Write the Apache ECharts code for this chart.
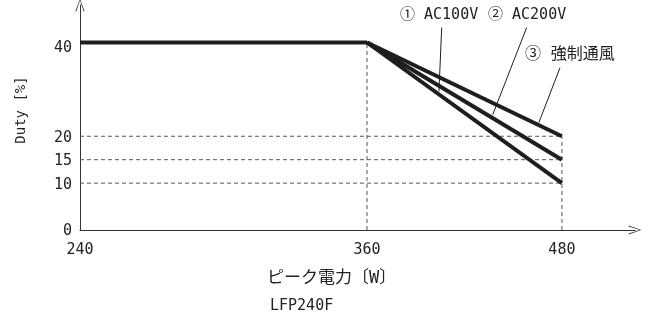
<!DOCTYPE html>
<html>
<head>
<meta charset="utf-8">
<script src="https://cdn.jsdelivr.net/npm/echarts@6/dist/echarts.min.js"></script>
<style>
  html, body { margin: 0; padding: 0; background: #fff; }
  #chart { width: 648px; height: 322px; }
</style>
</head>
<body>
<div id="chart"></div>
<script>
// data
const xTicks = [240, 360, 480];
const yTicks = [0, 10, 15, 20, 40];
const flatDuty = 40;
const breakPower = 360;
const fullPower = 480;
const seriesNames = ['① AC100V', '② AC200V', '③ 強制通風'];
const dutyAtFull = [10, 15, 20];
const guideLevels = [10, 15, 20];
// leader lines for the callouts (data coords, right part)
const leaderFrom = [[406, 43.2], [458.3, 43.2], [478.8, 34.6]];
const leaderTo = [[404.3, 29.6], [437.4, 24.6], [465.8, 22.9]];

const FONT = "'DejaVu Sans Mono', 'Noto Sans CJK JP', monospace";
const INK = '#1e1e1e';
const GUIDE = '#555';
const arrowPath = 'path://M5,0 L10,14 L9,14 L5,2 L1,14 L0,14 Z';

const myChart = echarts.init(document.getElementById('chart'), null, { renderer: 'canvas' });

const dashStyle = { color: GUIDE, width: 1, type: [4, 3] };
const lineBase = { type: 'line', symbol: 'none', silent: true, clip: false };

const series = [];

// left part: 240..360
guideLevels.forEach(l => {
  series.push({ ...lineBase, xAxisIndex: 0, yAxisIndex: 0, z: 1,
    lineStyle: dashStyle, data: [[xTicks[0], l], [breakPower, l]] });
});
series.push({ ...lineBase, xAxisIndex: 0, yAxisIndex: 0, z: 5,
  lineStyle: { color: INK, width: 4 }, data: [[xTicks[0], flatDuty], [breakPower, flatDuty]] });

// right part: 360..480
guideLevels.forEach(l => {
  series.push({ ...lineBase, xAxisIndex: 1, yAxisIndex: 1, z: 1,
    lineStyle: dashStyle, data: [[breakPower, l], [fullPower, l]] });
});
series.push({ ...lineBase, xAxisIndex: 1, yAxisIndex: 1, z: 1,
  lineStyle: dashStyle, data: [[breakPower, 0], [breakPower, flatDuty]] });
series.push({ ...lineBase, xAxisIndex: 1, yAxisIndex: 1, z: 1,
  lineStyle: dashStyle, data: [[fullPower, 0], [fullPower, Math.max(...dutyAtFull)]] });

seriesNames.forEach((name, i) => {
  series.push({ ...lineBase, name, xAxisIndex: 1, yAxisIndex: 1, z: 5,
    lineStyle: { color: INK, width: 4, cap: 'butt' },
    data: [[breakPower, flatDuty], [fullPower, dutyAtFull[i]]] });
  series.push({ ...lineBase, xAxisIndex: 1, yAxisIndex: 1, z: 6,
    lineStyle: { color: INK, width: 1 },
    data: [leaderFrom[i], leaderTo[i]] });
});

const labelStyle = { color: '#222', fontSize: 15, fontFamily: FONT };

const option = {
  animation: false,
  grid: [
    { left: 80, top: 5, width: 287, bottom: 92 },
    { left: 367, top: 5, width: 268, bottom: 92 }
  ],
  xAxis: [
    {
      type: 'value', gridIndex: 0, min: 240, max: 360, interval: 120,
      axisLine: { show: true, lineStyle: { color: '#333', width: 1 } },
      axisTick: { show: false }, splitLine: { show: false },
      axisLabel: { ...labelStyle, showMaxLabel: false, margin: 13 }
    },
    {
      type: 'value', gridIndex: 1, min: 360, max: 525, interval: 120,
      axisLine: { show: true, symbol: ['none', arrowPath], symbolSize: [9, 15],
        lineStyle: { color: '#333', width: 1 } },
      axisTick: { show: false }, splitLine: { show: false },
      axisLabel: { ...labelStyle, showMaxLabel: false, margin: 13,
        formatter: v => xTicks.includes(v) ? v : '' }
    }
  ],
  yAxis: [
    {
      type: 'value', gridIndex: 0, min: 0, max: 48, interval: 5,
      name: 'Duty [%]', nameLocation: 'middle', nameGap: 52, nameRotate: 90,
      nameTextStyle: { color: '#222', fontSize: 14, fontFamily: FONT, padding: [0, 0, 0, 15] },
      axisLine: { show: true, onZero: false, symbol: ['none', arrowPath], symbolSize: [10, 13],
        lineStyle: { color: '#333', width: 1 } },
      axisTick: { show: false }, splitLine: { show: false },
      axisLabel: { ...labelStyle, showMaxLabel: false, margin: 8,
        formatter: v => v === 40 ? '{low|40}' : (yTicks.includes(v) ? '{n|' + v + '}' : ''),
        rich: { low: { ...labelStyle, padding: [12, 0, 0, 0] }, n: { ...labelStyle, padding: [3, 0, 0, 0] } } }
    },
    {
      type: 'value', gridIndex: 1, min: 0, max: 48, interval: 5, show: false
    }
  ],
  graphic: [
    { type: 'text', left: 400, top: 8, style: { text: seriesNames[0], fontSize: 15, fontFamily: FONT, fill: '#222' } },
    { type: 'text', left: 488, top: 8, style: { text: seriesNames[1], fontSize: 15, fontFamily: FONT, fill: '#222' } },
    { type: 'text', left: 525, top: 47, style: { text: seriesNames[2], fontSize: 16, fontFamily: FONT, fill: '#222' } },
    { type: 'text', left: 267, top: 270, style: { text: 'ピーク電力〔W〕', fontSize: 17, fontFamily: FONT, fill: '#222' } },
    { type: 'text', left: 270, top: 299, style: { text: 'LFP240F', fontSize: 15, fontFamily: FONT, fill: '#222' } }
  ],
  series
};

myChart.setOption(option);
window.addEventListener('resize', () => myChart.resize());
</script>
</body>
</html>
